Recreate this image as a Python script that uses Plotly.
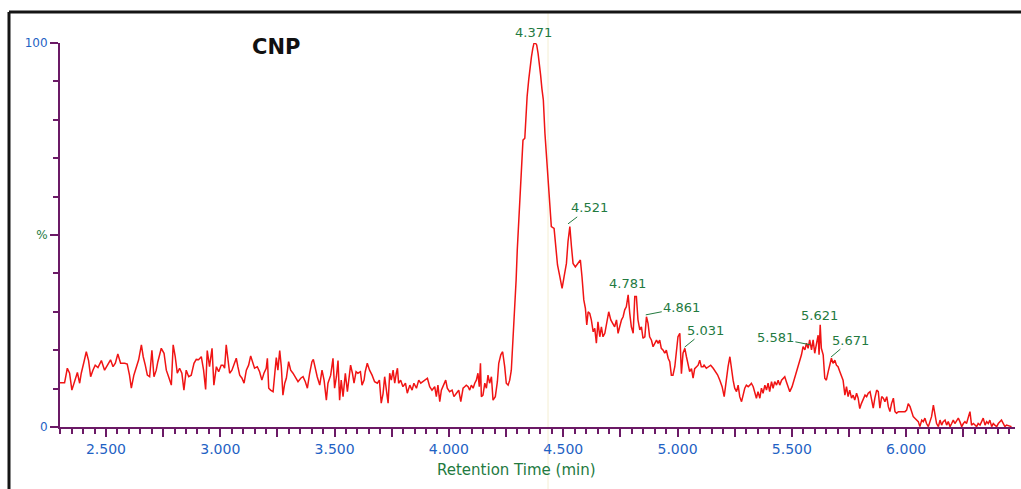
import plotly.graph_objects as go

# ---------------- data ----------------
# retention time (min) and relative intensity (%) by region
time_a = [2.297, 2.319, 2.331, 2.341, 2.351, 2.363, 2.375, 2.385, 2.392, 2.404, 2.414, 2.424, 2.433, 2.443,
          2.453, 2.465, 2.480, 2.494, 2.509, 2.520, 2.531, 2.541, 2.552, 2.564, 2.582, 2.593, 2.603, 2.611,
          2.622, 2.633, 2.643, 2.655, 2.663, 2.672, 2.681, 2.691, 2.701, 2.710, 2.720, 2.727, 2.742, 2.754,
          2.764, 2.774, 2.786, 2.794, 2.803, 2.812, 2.822, 2.832, 2.841, 2.851, 2.862, 2.873, 2.885, 2.895,
          2.905, 2.917, 2.927, 2.936, 2.943, 2.953, 2.964, 2.972, 2.983, 2.993, 3.004]
int_a = [11.5, 11.5, 15.3, 14.0, 9.6, 11.8, 14.2, 11.4, 14.0, 17.0, 19.6, 17.3, 13.1, 14.8,
         16.1, 15.5, 17.3, 14.8, 16.6, 17.5, 15.7, 16.6, 19.0, 16.6, 16.6, 16.4, 13.5, 10.1,
         13.5, 15.7, 17.5, 21.4, 18.3, 16.1, 13.5, 13.1, 20.0, 13.1, 14.8, 17.0, 20.5, 19.2,
         14.8, 13.1, 10.9, 21.4, 18.3, 14.0, 15.3, 14.0, 9.6, 14.8, 13.1, 13.5, 16.6, 17.6,
         17.5, 18.3, 14.8, 9.8, 19.9, 15.7, 20.5, 10.9, 15.7, 14.4, 16.1]

time_b = [3.012, 3.019, 3.026, 3.034, 3.041, 3.051, 3.060, 3.070, 3.077, 3.085, 3.095, 3.104, 3.114, 3.124,
          3.133, 3.142, 3.150, 3.162, 3.172, 3.182, 3.191, 3.201, 3.206, 3.212, 3.220, 3.231, 3.238, 3.245,
          3.252, 3.260, 3.267, 3.274, 3.282, 3.289, 3.299, 3.308, 3.318, 3.328, 3.340, 3.352, 3.362, 3.372,
          3.381, 3.391, 3.401, 3.407, 3.416, 3.424, 3.435, 3.445, 3.454, 3.464, 3.471, 3.483, 3.493, 3.500,
          3.508, 3.515, 3.522, 3.529, 3.537, 3.547, 3.556, 3.564, 3.570, 3.578, 3.585, 3.594, 3.602, 3.613,
          3.620, 3.629, 3.634, 3.643, 3.653, 3.664, 3.675, 3.687, 3.696, 3.704, 3.712]
int_b = [16.1, 15.3, 21.4, 17.0, 14.0, 14.8, 16.1, 17.9, 15.7, 13.5, 12.7, 11.4, 14.8, 16.1,
         18.5, 17.0, 15.3, 15.7, 14.4, 12.2, 14.0, 15.3, 17.9, 10.1, 9.6, 9.2, 14.0, 18.1,
         14.8, 19.9, 15.7, 8.3, 11.4, 12.7, 17.0, 14.8, 14.0, 13.1, 11.8, 12.7, 13.1, 11.8,
         10.1, 14.0, 17.0, 17.6, 14.8, 13.1, 10.9, 14.8, 12.2, 7.0, 11.4, 13.5, 17.9, 10.1,
         13.1, 17.3, 7.0, 12.2, 7.9, 14.0, 9.2, 13.1, 16.1, 14.0, 11.4, 14.4, 14.0, 14.4,
         10.9, 12.2, 14.4, 16.6, 14.8, 13.5, 11.8, 11.4, 12.2, 6.2, 8.7]

time_c = [3.719, 3.726, 3.734, 3.741, 3.748, 3.756, 3.763, 3.770, 3.775, 3.780, 3.789, 3.799, 3.810, 3.818,
          3.829, 3.839, 3.847, 3.858, 3.868, 3.877, 3.887, 3.897, 3.906, 3.916, 3.926, 3.938, 3.945, 3.952,
          3.960, 3.967, 3.979, 3.986, 3.993, 4.003, 4.014, 4.022, 4.033, 4.043, 4.052, 4.062, 4.069, 4.076,
          4.084, 4.091, 4.098, 4.106, 4.113, 4.120, 4.127, 4.133, 4.138, 4.142, 4.149, 4.157, 4.164, 4.171,
          4.178, 4.186, 4.193, 4.203, 4.212, 4.218, 4.227, 4.235, 4.244, 4.251, 4.259, 4.266, 4.273, 4.278,
          4.282, 4.288, 4.294, 4.299, 4.305, 4.311, 4.317, 4.324, 4.332, 4.336, 4.342, 4.349, 4.355, 4.361,
          4.367, 4.372, 4.378, 4.384, 4.390]
int_c = [13.1, 9.6, 6.2, 14.0, 12.2, 14.8, 11.4, 14.0, 15.3, 11.4, 12.2, 10.5, 11.4, 8.8,
         10.9, 9.6, 11.4, 10.1, 12.2, 11.4, 11.8, 12.2, 12.7, 10.5, 9.6, 10.5, 7.9, 10.9,
         6.6, 9.6, 11.4, 12.2, 10.1, 9.2, 9.6, 7.9, 8.8, 9.6, 6.6, 10.1, 10.5, 10.9,
         10.5, 9.6, 10.9, 10.1, 11.4, 12.2, 14.0, 10.5, 16.6, 7.9, 8.3, 11.4, 10.1, 13.5,
         11.4, 13.1, 7.0, 7.9, 11.8, 16.6, 18.8, 19.6, 15.7, 11.4, 10.9, 12.2, 14.8, 20.1,
         24.4, 31.3, 38.3, 46.1, 53.0, 59.1, 68.7, 74.7, 75.2, 80.8, 86.0, 90.4, 93.8, 96.4,
         98.6, 99.9, 100.0, 99.5, 97.3]

time_d = [4.396, 4.401, 4.407, 4.413, 4.420, 4.428, 4.434, 4.441, 4.448, 4.460, 4.466, 4.475, 4.485, 4.495,
          4.504, 4.514, 4.521, 4.529, 4.536, 4.543, 4.553, 4.565, 4.575, 4.582, 4.590, 4.597, 4.603, 4.609,
          4.616, 4.623, 4.631, 4.638, 4.645, 4.652, 4.660, 4.667, 4.674, 4.682, 4.692, 4.699, 4.708, 4.718,
          4.725, 4.733, 4.740, 4.747, 4.755, 4.762, 4.769, 4.776, 4.784, 4.791, 4.798, 4.806, 4.813, 4.820,
          4.827, 4.835, 4.842, 4.849, 4.857, 4.864, 4.871, 4.878, 4.886, 4.893, 4.900, 4.908, 4.915, 4.922,
          4.929, 4.937, 4.944, 4.951, 4.959, 4.966, 4.973, 4.980, 4.988, 4.995, 5.002, 5.010, 5.017, 5.024,
          5.032, 5.039, 5.046, 5.053, 5.061, 5.068, 5.075, 5.083, 5.090, 5.097, 5.104, 5.112]
int_d = [94.7, 91.7, 88.0, 85.2, 76.5, 68.7, 64.3, 56.5, 52.2, 51.7, 47.0, 42.2, 39.2, 36.1,
         39.2, 42.6, 48.3, 52.2, 47.0, 42.6, 41.7, 42.6, 43.5, 39.2, 33.1, 30.9, 26.6, 30.0,
         29.6, 27.9, 24.8, 25.7, 21.8, 27.4, 23.5, 26.1, 23.5, 24.4, 27.9, 30.0, 27.9, 27.0,
         26.1, 27.9, 24.4, 26.1, 27.9, 28.7, 30.5, 31.3, 34.4, 29.6, 26.1, 24.4, 34.0, 34.0,
         27.9, 25.3, 26.1, 23.1, 23.5, 28.7, 27.0, 23.5, 22.6, 20.9, 21.8, 22.6, 21.8, 22.6,
         20.5, 20.0, 19.2, 20.0, 17.9, 17.0, 13.5, 13.5, 15.7, 19.2, 23.5, 24.4, 13.9, 19.2,
         20.5, 18.3, 16.6, 14.4, 15.2, 12.7, 15.2, 15.7, 16.1, 17.4, 15.7, 15.7]

time_e = [5.116, 5.126, 5.137, 5.145, 5.156, 5.166, 5.175, 5.185, 5.195, 5.204, 5.214, 5.221, 5.229, 5.236,
          5.243, 5.250, 5.258, 5.265, 5.272, 5.280, 5.287, 5.294, 5.301, 5.309, 5.316, 5.323, 5.331, 5.338,
          5.345, 5.352, 5.360, 5.367, 5.374, 5.382, 5.389, 5.396, 5.403, 5.411, 5.418, 5.425, 5.433, 5.440,
          5.447, 5.455, 5.462, 5.469, 5.476, 5.484, 5.491, 5.501, 5.510, 5.520, 5.527, 5.535, 5.542, 5.549,
          5.557, 5.564, 5.571, 5.578, 5.586, 5.593, 5.600, 5.608, 5.615, 5.619, 5.624, 5.629, 5.637, 5.644,
          5.651, 5.659, 5.666, 5.673, 5.680, 5.688, 5.695, 5.702, 5.710, 5.717, 5.724, 5.732, 5.739, 5.746,
          5.753, 5.761, 5.768, 5.775, 5.783, 5.790, 5.797, 5.804, 5.812]
int_e = [16.1, 15.3, 15.7, 16.1, 15.3, 14.4, 13.6, 12.2, 10.5, 7.9, 13.1, 15.7, 18.3, 14.8,
         12.2, 10.1, 9.2, 10.9, 7.9, 6.6, 8.8, 10.1, 10.9, 10.5, 10.9, 11.4, 10.5, 9.2,
         7.5, 9.2, 7.5, 10.1, 8.8, 10.9, 9.6, 11.4, 9.2, 11.8, 10.1, 11.8, 10.9, 12.2,
         10.9, 12.2, 12.7, 13.1, 11.8, 10.1, 9.2, 10.5, 12.2, 14.0, 15.7, 17.4, 18.8, 20.9,
         20.1, 21.8, 20.5, 22.7, 20.1, 22.7, 19.2, 21.8, 23.9, 18.8, 26.6, 20.5, 18.8, 12.7,
         12.2, 14.4, 16.1, 17.9, 16.6, 17.4, 16.1, 15.7, 14.4, 13.1, 12.2, 8.3, 10.5, 7.9,
         9.6, 7.5, 8.3, 7.0, 8.8, 7.5, 4.8, 6.1, 7.0]

time_f = [5.820, 5.827, 5.834, 5.842, 5.849, 5.856, 5.863, 5.871, 5.878, 5.885, 5.893, 5.900, 5.907, 5.915,
          5.922, 5.929, 5.936, 5.944, 5.951, 5.958, 5.966, 5.980, 5.995, 6.002, 6.009, 6.017, 6.024, 6.031,
          6.038, 6.046, 6.053, 6.060, 6.068, 6.075, 6.082, 6.089, 6.097, 6.104, 6.111, 6.119, 6.126, 6.133,
          6.141, 6.148, 6.155, 6.162, 6.170, 6.177, 6.184, 6.192, 6.199, 6.206, 6.213, 6.221, 6.228, 6.235,
          6.243, 6.250, 6.257, 6.264, 6.272, 6.279, 6.286, 6.294, 6.301, 6.308, 6.315, 6.323, 6.330, 6.337,
          6.345, 6.352, 6.359, 6.366, 6.374, 6.381, 6.388, 6.396, 6.403, 6.410, 6.417, 6.425, 6.432, 6.439,
          6.447, 6.454, 6.461]
int_f = [8.3, 7.9, 8.8, 9.2, 7.0, 4.9, 7.5, 9.6, 9.2, 4.9, 7.9, 7.5, 6.6, 7.9,
         5.3, 4.0, 6.1, 7.5, 4.0, 3.6, 4.0, 4.0, 4.0, 4.4, 6.1, 5.3, 4.0, 2.7,
         2.3, 1.8, 1.4, 0.1, 1.8, 1.4, 2.3, 0.9, 0.1, 1.4, 2.7, 5.7, 3.6, 0.9,
         0.1, 1.8, 0.5, 1.4, 1.8, 0.5, 1.4, 0.1, 0.9, 1.8, 0.9, 1.8, 2.3, 1.4,
         0.1, 0.9, 1.4, 0.9, 2.3, 4.0, 0.5, 0.9, 0.5, 0.1, 0.9, 0.5, 1.4, 2.3,
         0.5, 1.4, 0.9, 1.8, 0.1, 0.9, 0.5, 0.1, 0.9, 1.4, 1.8, 0.9, 0.1, 0.5,
         0.3, 0.1, 0.1]

# labelled peaks
peak_labels = ["4.371", "4.521", "4.781", "4.861", "5.031", "5.581", "5.621", "5.671"]
peak_times = [4.371, 4.521, 4.781, 4.861, 5.031, 5.581, 5.621, 5.671]
peak_heights = [100.0, 52.9, 34.4, 29.2, 20.8, 21.4, 26.6, 18.2]

x_tick_values = [2.5, 2.75, 3.0, 3.25, 3.5, 3.75, 4.0, 4.25, 4.5, 4.75, 5.0, 5.25, 5.5, 5.75, 6.0, 6.25]
y_tick_values = [0, 50, 100]

# ---------------- assemble ----------------
times = time_a + time_b + time_c + time_d + time_e + time_f
intens = int_a + int_b + int_c + int_d + int_e + int_f
assert len(times) == len(intens)

PURPLE = "#6b1a66"
BLUE = "#1f62c4"
GREEN = "#237a3f"
RED = "#f01414"
FONT = "DejaVu Sans"

fig = go.Figure()
fig.add_trace(go.Scatter(x=times, y=intens, mode="lines",
                         line=dict(color=RED, width=1.5), hoverinfo="skip",
                         showlegend=False, cliponaxis=False))

x_tick_text = [f"{v:.3f}" if abs(v * 2 - round(v * 2)) < 1e-9 else "" for v in x_tick_values]
y_tick_text = ["0", f"<span style='color:{GREEN}'>%</span>", "100"]

annotations = []
# per-label pixel offsets of the text relative to the peak (None = directly above)
label_offsets = [None, (21, -16), None, (36, -7), (21, -17), (-35, -7), None, (20, -17)]
above_shift = [11, 0, 11, 0, 0, 0, 9, 0]
for lab, t, h, off, ys in zip(peak_labels, peak_times, peak_heights, label_offsets, above_shift):
    if off is None:
        annotations.append(dict(x=t, y=h, xref="x", yref="y", text=lab, showarrow=False,
                                yanchor="middle", yshift=ys,
                                font=dict(family=FONT, size=13, color=GREEN)))
    else:
        annotations.append(dict(x=t, y=h, xref="x", yref="y", text=lab, showarrow=True,
                                arrowhead=0, arrowwidth=1, arrowcolor=GREEN, ax=off[0], ay=off[1],
                                standoff=0, startstandoff=0,
                                font=dict(family=FONT, size=13, color=GREEN)))

annotations.append(dict(x=0.4775, y=-0.112, xref="paper", yref="paper", text="Retention Time (min)",
                        showarrow=False, xanchor="center", yanchor="middle",
                        font=dict(family=FONT, size=15, color=GREEN)))
annotations.append(dict(x=0.2262, y=0.9896, xref="paper", yref="paper", text="<b>CNP</b>",
                        showarrow=False, xanchor="center", yanchor="middle",
                        font=dict(family=FONT, size=21, color="#111111")))

shapes = [
    # outer frame (left and top)
    dict(type="line", xref="paper", yref="paper", x0=-0.0534, x1=-0.0534, y0=-0.17, y1=1.0807,
         line=dict(color="#151515", width=3)),
    dict(type="line", xref="paper", yref="paper", x0=-0.0534, x1=1.01, y0=1.0807, y1=1.0807,
         line=dict(color="#151515", width=3)),
    # faint scan artefact line
    dict(type="line", xref="paper", yref="paper", x0=0.511, x1=0.511, y0=-0.17, y1=1.0807,
         line=dict(color="#f4eed2", width=1), layer="below"),
]

fig.update_layout(
    width=1021, height=489,
    margin=dict(l=60, r=6, t=43, b=62),
    paper_bgcolor="white", plot_bgcolor="white",
    font=dict(family=FONT),
    showlegend=False,
    annotations=annotations,
    shapes=shapes,
    xaxis=dict(range=[2.299, 6.476], showgrid=False, zeroline=False,
               showline=True, linecolor=PURPLE, linewidth=2,
               ticks="outside", tickcolor=PURPLE, ticklen=8, tickwidth=1.5,
               tickmode="array", tickvals=x_tick_values, ticktext=x_tick_text,
               tickfont=dict(family=FONT, size=14, color=BLUE),
               minor=dict(ticks="outside", dtick=0.05, tick0=0, ticklen=5, tickwidth=1.5,
                          tickcolor=PURPLE, showgrid=False)),
    yaxis=dict(range=[0, 100], showgrid=False, zeroline=False,
               showline=True, linecolor=PURPLE, linewidth=2,
               ticks="outside", tickcolor=PURPLE, ticklen=8, tickwidth=1.5,
               tickmode="array", tickvals=y_tick_values, ticktext=y_tick_text,
               tickfont=dict(family=FONT, size=12, color=BLUE),
               minor=dict(ticks="outside", dtick=10, tick0=0, ticklen=5, tickwidth=1.5,
                          tickcolor=PURPLE, showgrid=False)),
)

fig.write_html("out.html")
